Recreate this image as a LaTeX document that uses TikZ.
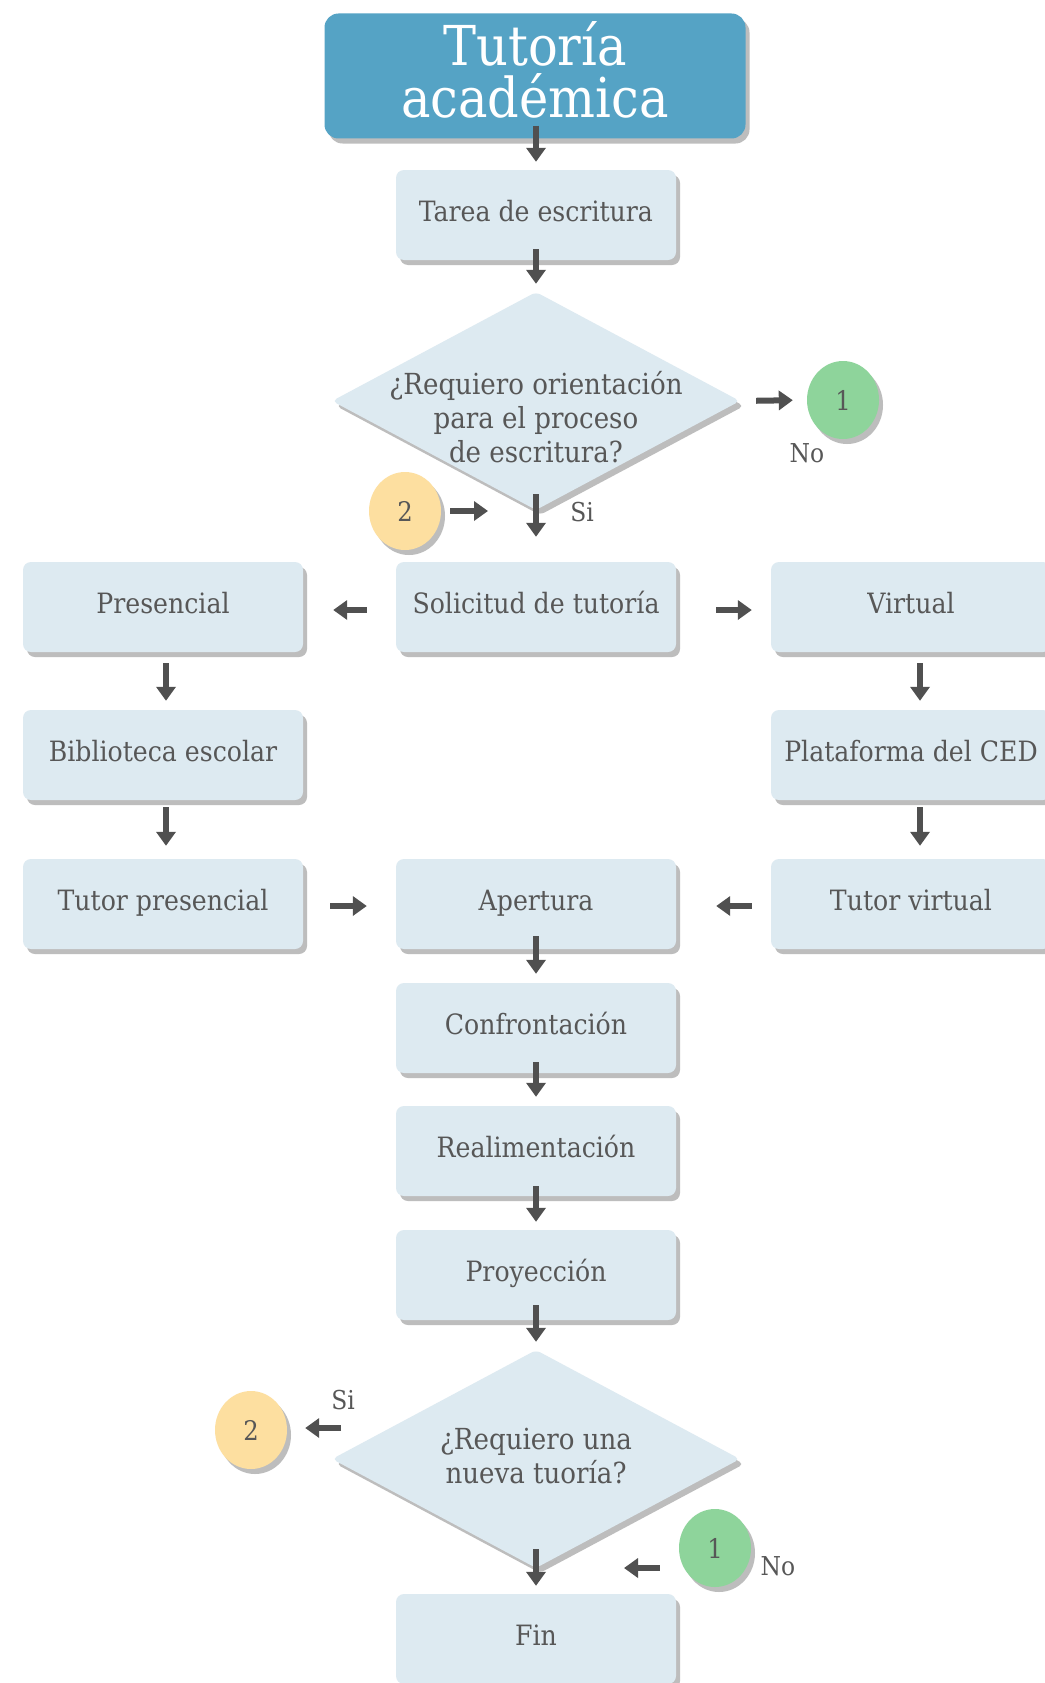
\documentclass[tikz,border=0pt]{standalone}
\usepackage{fontspec}
\setmainfont{DejaVu Serif Condensed}
\usetikzlibrary{shapes.geometric,shadows,arrows.meta}
\definecolor{boxfill}{HTML}{DDEAF1}
\definecolor{titlefill}{HTML}{55A3C5}
\definecolor{greenc}{HTML}{8ED49B}
\definecolor{yellowc}{HTML}{FDDFA0}
\definecolor{arrowc}{HTML}{505050}
\definecolor{textc}{HTML}{575757}
\definecolor{shadowc}{HTML}{BDBDBD}
\begin{document}
\begin{tikzpicture}[x=1pt,y=-1pt,
  shd/.style={drop shadow={shadow xshift=4pt,shadow yshift=-5pt,fill=shadowc,opacity=1}},
  box/.style={rectangle,rounded corners=8pt,fill=boxfill,minimum width=280pt,minimum height=90pt,
    text=textc,font=\fontsize{28}{32}\selectfont,text height=20pt,text depth=8pt,shd,inner sep=0pt},
  titlebox/.style={rectangle,rounded corners=14pt,fill=titlefill,minimum width=421pt,minimum height=125pt,
    shd,inner sep=0pt},
  titletext/.style={text=white,font=\fontsize{55}{52}\selectfont,align=center,inner sep=0pt},
  dia/.style={diamond,rounded corners=5pt,fill=boxfill,minimum width=408pt,minimum height=218pt,inner sep=0pt,shd},
  dtext/.style={text=textc,font=\fontsize{29}{34}\selectfont,align=center,inner sep=0pt},
  conn/.style={ellipse,minimum width=72pt,minimum height=78pt,inner sep=0pt,text=textc,
    font=\fontsize{27}{30}\selectfont,shd},
  lbl/.style={text=textc,font=\fontsize{26}{30}\selectfont,inner sep=0pt},
  arr/.style={draw=arrowc,line width=6pt,-{Triangle[length=14pt,width=19pt]}}
]
\useasboundingbox (0,0) rectangle (1044,1683);
\fill[white] (0,0) rectangle (1044,1683);

% nodes
\node[titlebox] (title) at (535,76) {};
\node[titletext] (titlet) at (535,70) {Tutoría\\académica};
\node[box] (tarea) at (536,215) {Tarea de escritura};
\node[dia] (d1) at (536,401) {};
\node[dtext] (d1t) at (536,417) {¿Requiero orientación\\para el proceso\\de escritura?};
\node[conn,fill=greenc] (c1a) at (843,400) {1};
\node[conn,fill=yellowc] (c2a) at (405,511) {2};
\coordinate (j1) at (488,511);
\node[lbl] (noa) at (807,453) {No};
\node[lbl] (sia) at (582,512) {Si};

\node[box] (sol) at (536,607) {Solicitud de tutoría};
\node[box] (pres) at (163,607) {Presencial};
\node[box] (virt) at (911,607) {Virtual};
\node[box] (bib) at (163,755) {Biblioteca escolar};
\node[box] (plat) at (911,755) {Plataforma del CED};
\node[box] (tpres) at (163,904) {Tutor presencial};
\node[box] (aper) at (536,904) {Apertura};
\node[box] (tvirt) at (911,904) {Tutor virtual};
\node[box] (conf) at (536,1028) {Confrontación};
\node[box] (real) at (536,1151) {Realimentación};
\node[box] (proy) at (536,1275) {Proyección};

\node[dia] (d2) at (536,1459) {};
\node[dtext] (d2t) at (536,1456) {¿Requiero una\\nueva tuoría?};
\node[conn,fill=yellowc] (c2b) at (251,1430) {2};
\node[conn,fill=greenc] (c1b) at (715,1548) {1};
\coordinate (s2) at (341,1428);
\coordinate (j2) at (624,1568);
\node[lbl] (sib) at (343,1400) {Si};
\node[lbl] (nob) at (778,1566) {No};
\node[box] (fin) at (536,1639) {Fin};

% connectors
\draw[arr,shorten <=-13pt,shorten >=8pt] (title.south -| tarea) -- (tarea.north);
\draw[arr,shorten <=-11pt,shorten >=8pt] (tarea.south) -- (d1.north);
\draw[arr,shorten <=16pt,shorten >=14pt] (d1.east) -- (c1a.west);
\draw[arr,shorten <=9pt] (c2a.east) -- (j1);
\draw[arr,shorten <=-16pt,shorten >=25pt] (d1.south) -- (sol.north);
\draw[arr,shorten <=29pt,shorten >=30pt] ([yshift=-3pt]sol.west) -- ([yshift=-3pt]pres.east);
\draw[arr,shorten <=40pt,shorten >=19pt] ([yshift=-3pt]sol.east) -- ([yshift=-3pt]virt.west);
\draw[arr,shorten <=11pt,shorten >=9pt] ([xshift=3pt]pres.south) -- ([xshift=3pt]bib.north);
\draw[arr,shorten <=11pt,shorten >=9pt] ([xshift=9pt]virt.south) -- ([xshift=9pt]plat.north);
\draw[arr,shorten <=7pt,shorten >=13pt] ([xshift=3pt]bib.south) -- ([xshift=3pt]tpres.north);
\draw[arr,shorten <=7pt,shorten >=13pt] ([xshift=9pt]plat.south) -- ([xshift=9pt]tvirt.north);
\draw[arr,shorten <=27pt,shorten >=29pt] ([yshift=-2pt]tpres.east) -- ([yshift=-2pt]aper.west);
\draw[arr,shorten <=19pt,shorten >=40pt] ([yshift=-2pt]tvirt.west) -- ([yshift=-2pt]aper.east);
\draw[arr,shorten <=-13pt,shorten >=9pt] (aper.south) -- (conf.north);
\draw[arr,shorten <=-11pt,shorten >=9pt] (conf.south) -- (real.north);
\draw[arr,shorten <=-10pt,shorten >=8pt] (real.south) -- (proy.north);
\draw[arr,shorten <=-15pt,shorten >=8pt] (proy.south) -- (d2.north);
\draw[arr,shorten >=18pt] (s2) -- (s2 -| c2b.east);
\draw[arr,shorten <=19pt] (c1b.west |- j2) -- (j2);
\draw[arr,shorten <=-19pt,shorten >=8pt] (d2.south) -- (fin.north);
\end{tikzpicture}
\end{document}
